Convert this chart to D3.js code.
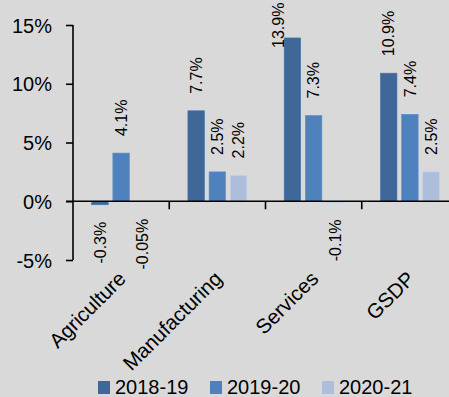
<!DOCTYPE html>
<html>
<head>
<meta charset="utf-8">
<script src="https://cdn.jsdelivr.net/npm/d3@7"></script>
<style>
  html, body { margin: 0; padding: 0; background: #d9d9d9; }
  svg { display: block; font-family: "Liberation Sans", Arial, sans-serif; }
</style>
</head>
<body>
<svg width="449" height="397"></svg>
<script>
// data
const categories = ['Agriculture', 'Manufacturing', 'Services', 'GSDP']
const seriesNames = ['2018-19', '2019-20', '2020-21']
const v2018 = [-0.3, 7.7, 13.9, 10.9]
const v2019 = [4.1, 2.5, 7.3, 7.4]
const v2020 = [-0.05, 2.2, -0.1, 2.5]
const labels2018 = ['-0.3%', '7.7%', '13.9%', '10.9%']
const labels2019 = ['4.1%', '2.5%', '7.3%', '7.4%']
const labels2020 = ['-0.05%', '2.2%', '-0.1%', '2.5%']
const yTicks = [-5, 0, 5, 10, 15]

const colors = ['#3f6898', '#4f81bd', '#adbedc']

const svg = d3.select('svg')

const x0 = d3.scaleBand(categories, [73, 458]).padding(0)
const x1 = d3.scaleBand(seriesNames, [0, x0.bandwidth()])
    .paddingInner(0.22).paddingOuter(0.88)
const y = d3.scaleLinear([-5, 15], [260, 25])

const values = [v2018, v2019, v2020]
const labelTexts = [labels2018, labels2019, labels2020]

let rows = []
categories.forEach((c, i) => {
    seriesNames.forEach((s, j) => {
        rows.push({cat: c, series: s, si: j, value: values[j][i], label: labelTexts[j][i]})
    })
})

// bars
svg.selectAll('rect.bar').data(rows).enter()
    .append('rect')
        .attr('class', 'bar')
        .attr('x', d => x0(d.cat) + x1(d.series))
        .attr('width', x1.bandwidth())
        .attr('y', d => y(Math.max(0, d.value)))
        .attr('height', d => Math.abs(y(d.value) - y(0)))
        .attr('fill', d => colors[d.si])
        .attr('stroke', d => d3.color(colors[d.si]).brighter(0.3))
        .attr('stroke-width', 0.6)

// y axis
const yAxis = d3.axisLeft(y)
    .tickValues(yTicks)
    .tickFormat(d => d + '%')
    .tickSize(7)
    .tickPadding(14)

svg.append('g')
    .attr('transform', 'translate(73,0)')
    .call(yAxis)
    .call(g => g.select('.domain').attr('stroke', '#000').attr('stroke-width', 1.6).attr('d', 'M0,25V260'))
    .call(g => g.selectAll('.tick line').attr('stroke', '#000').attr('stroke-width', 1.6))
    .call(g => g.selectAll('.tick text').attr('fill', '#000').style('font-size', '20px').attr('dy', '0.36em'))

// zero line with category ticks
const xAxis = d3.axisBottom(x0).tickSize(8).tickFormat('')
svg.append('g')
    .attr('transform', `translate(0,${y(0)})`)
    .call(xAxis)
    .call(g => g.select('.domain').attr('stroke', '#000').attr('stroke-width', 1.6).attr('d', 'M66,0H458'))
    .call(g => g.selectAll('.tick').remove())

svg.append('g').selectAll('line').data(categories).enter()
    .append('line')
        .attr('x1', d => x0(d) + x0.bandwidth())
        .attr('x2', d => x0(d) + x0.bandwidth())
        .attr('y1', y(0))
        .attr('y2', y(0) + 8)
        .attr('stroke', '#000')
        .attr('stroke-width', 1.6)

// category labels
svg.append('g').selectAll('text').data(categories).enter()
    .append('text')
        .attr('transform', d => `translate(${x0(d) + x0.bandwidth() / 2 + 6},${280}) rotate(-45)`)
        .attr('text-anchor', 'end')
        .style('font-size', '20.5px')
        .attr('fill', '#000')
        .text(d => d)

// value labels (rotated)
svg.append('g').selectAll('text').data(rows).enter()
    .append('text')
        .attr('transform', d => {
            let cx = x0(d.cat) + x1(d.series) + x1.bandwidth() / 2
            let py = d.value >= 0 ? y(d.value) - 17 : y(d.value) + 17
            // label would run out of the top: slide it left of the bar
            if (d.value >= 0 && py - 40 < 0) {
                cx -= 14
                py = y(d.value) + 10
            }
            return `translate(${cx},${py}) rotate(-90)`
        })
        .attr('text-anchor', d => d.value >= 0 ? 'start' : 'end')
        .attr('dy', '0.36em')
        .style('font-size', '16px')
        .attr('fill', '#000')
        .text(d => d.label)

// legend
const legendX = [98, 210, 322]
const legend = svg.append('g').selectAll('g').data(seriesNames).enter()
    .append('g')
        .attr('transform', (d, i) => `translate(${legendX[i]},381)`)

legend.append('rect')
    .attr('width', 12).attr('height', 13)
    .attr('fill', (d, i) => colors[i])

legend.append('text')
    .attr('x', 17).attr('y', 13)
    .style('font-size', '20px')
    .attr('fill', '#000')
    .text(d => d)
</script>
</body>
</html>
